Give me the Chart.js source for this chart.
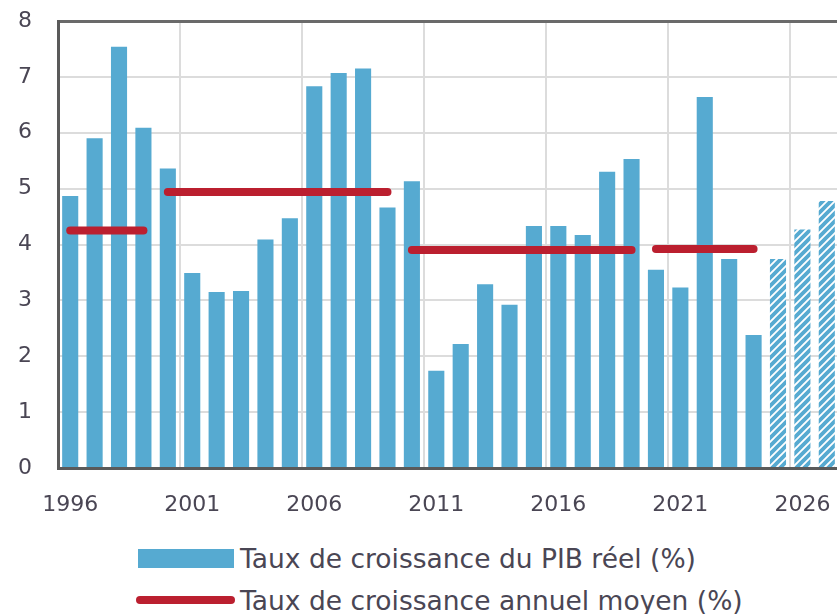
<!DOCTYPE html>
<html>
<head>
<meta charset="utf-8">
<script src="https://cdn.jsdelivr.net/npm/chart.js@4"></script>
<style>
  html, body { margin: 0; padding: 0; background: #fff; overflow: hidden; }
  #wrap { position: relative; width: 837px; height: 614px; overflow: hidden; }
  #growthChart { position: absolute; left: 0; top: 0; }
  .legend-row { position: absolute; left: 0; height: 30px; display: flex; align-items: center;
    font-family: "DejaVu Sans", sans-serif; font-size: 26.5px; color: #4a4654; white-space: nowrap; }
  .legend-bar { width: 96px; height: 19px; background: #56aad1; margin-right: 6px; }
  .legend-line { width: 99px; height: 8px; border-radius: 4px; background: #bb1f2f; margin-right: 5px; }
</style>
</head>
<body>
<div id="wrap">
  <canvas id="growthChart" width="850" height="520"></canvas>
  <div class="legend-row" style="left:138px; top:543px;"><div class="legend-bar"></div>Taux de croissance du PIB réel (%)</div>
  <div class="legend-row" style="left:136px; top:585px;"><div class="legend-line"></div>Taux de croissance annuel moyen (%)</div>
</div>
<script>
// years on the x axis, forecast years start at 2025
const years = [1996, 1997, 1998, 1999, 2000, 2001, 2002, 2003, 2004, 2005, 2006,
  2007, 2008, 2009, 2010, 2011, 2012, 2013, 2014, 2015, 2016, 2017, 2018, 2019,
  2020, 2021, 2022, 2023, 2024, 2025, 2026, 2027];
const gdpGrowth = [4.87, 5.90, 7.54, 6.09, 5.36, 3.49, 3.15, 3.17, 4.09, 4.47, 6.83,
  7.07, 7.15, 4.66, 5.13, 1.74, 2.22, 3.29, 2.92, 4.33, 4.33, 4.17, 5.30, 5.53,
  3.55, 3.23, 6.64, 3.74, 2.38, 3.74, 4.27, 4.78];
const forecastFrom = 2025;

// average growth per period
const avgStart = [1996, 2000, 2010, 2020];
const avgEnd = [1999, 2009, 2019, 2024];
const avgValue = [4.25, 4.94, 3.90, 3.92];

const yTicks = [0, 1, 2, 3, 4, 5, 6, 7, 8];

const blue = "#56aad1";
const red = "#bb1f2f";
const textColor = "#4a4654";

// hatch for forecast bars
function makeHatch() {
  const size = 8;
  const c = document.createElement("canvas");
  c.width = size;
  c.height = size;
  const g = c.getContext("2d");
  g.fillStyle = "#fff";
  g.fillRect(0, 0, size, size);
  g.strokeStyle = blue;
  g.lineWidth = 3.8;
  g.beginPath();
  g.moveTo(-2, size + 2); g.lineTo(size + 2, -2);
  g.moveTo(-2, 2); g.lineTo(2, -2);
  g.moveTo(size - 2, size + 2); g.lineTo(size + 2, size - 2);
  g.stroke();
  return g.createPattern(c, "repeat");
}
const hatch = makeHatch();

const avgDatasets = avgStart.map((start, k) => ({
  type: "line",
  label: "Taux de croissance annuel moyen (%)",
  data: years.map((y) => (y >= start && y <= avgEnd[k] ? avgValue[k] : null)),
  borderColor: red,
  borderWidth: 8,
  borderCapStyle: "round",
  pointRadius: 0,
  spanGaps: false,
  order: 0,
}));

new Chart("growthChart", {
  type: "bar",
  data: {
    labels: years.map(String),
    datasets: [
      {
        label: "Taux de croissance du PIB réel (%)",
        data: gdpGrowth,
        backgroundColor: (ctx) => (years[ctx.dataIndex] >= forecastFrom ? hatch : blue),
        barPercentage: 0.66,
        categoryPercentage: 1,
        order: 1,
      },
      ...avgDatasets,
    ],
  },
  options: {
    responsive: false,
    animation: false,
    layout: { padding: { top: 21, right: 11, left: 0, bottom: 0 } },
    plugins: { legend: { display: false }, tooltip: { enabled: false } },
    scales: {
      x: {
        grid: {
          offset: true,
          drawTicks: false,
          color: (ctx) => (ctx.index % 5 === 0 && ctx.index > 0 ? "#dcdcdc" : "rgba(0,0,0,0)"),
          lineWidth: 2,
        },
        border: { color: "#5a5a5a", width: 3 },
        ticks: {
          autoSkip: false,
          maxRotation: 0,
          padding: 24,
          color: textColor,
          font: { family: "DejaVu Sans", size: 22 },
          callback: (v, i) => (i % 5 === 0 ? years[i] : ""),
        },
        afterFit: (scale) => {
          scale.height = 52;
          scale.paddingLeft = 0;
          scale.paddingRight = 0;
        },
      },
      y: {
        min: 0,
        max: 8,
        afterBuildTicks: (scale) => { scale.ticks = yTicks.map((v) => ({ value: v })); },
        grid: {
          drawTicks: false,
          color: (ctx) => (ctx.tick && ctx.tick.value === 8 ? "#6a6a6a" : "#dcdcdc"),
          lineWidth: (ctx) => (ctx.tick && ctx.tick.value === 8 ? 3 : 2),
        },
        border: { color: "#5a5a5a", width: 3 },
        ticks: {
          padding: 26,
          color: textColor,
          font: { family: "DejaVu Sans", size: 22 },
        },
        afterFit: (scale) => {
          scale.width = 58;
          scale.paddingTop = 0;
          scale.paddingBottom = 0;
        },
      },
    },
  },
});
</script>
</body>
</html>
